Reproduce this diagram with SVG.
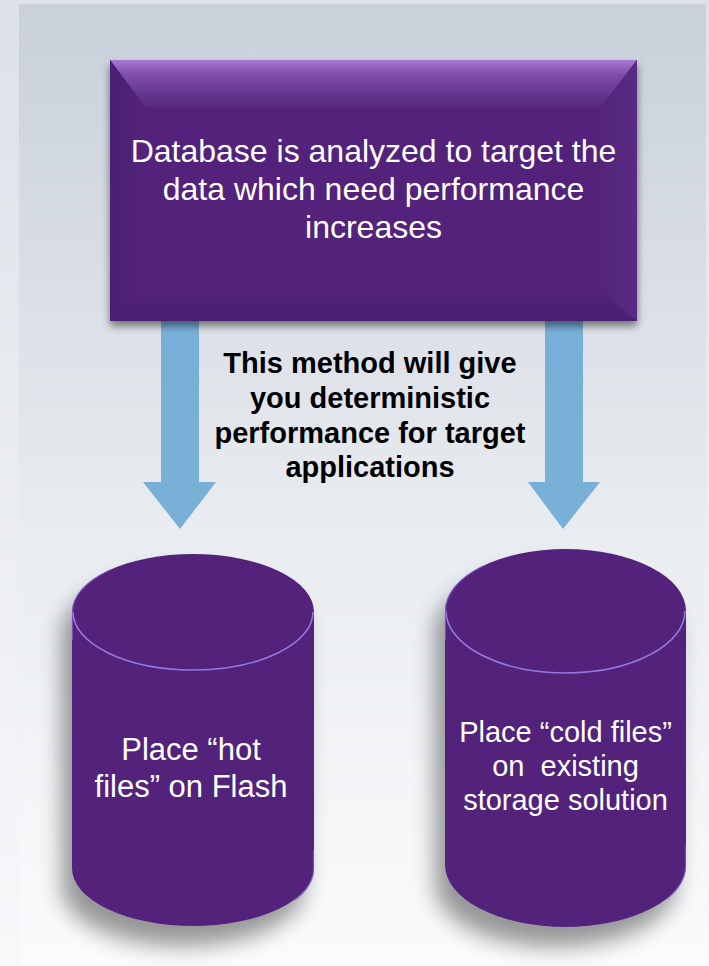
<svg xmlns="http://www.w3.org/2000/svg" width="709" height="966" viewBox="0 0 709 966">
  <defs>
    <linearGradient id="outerBg" x1="0" y1="0" x2="0" y2="1">
      <stop offset="0" stop-color="#dde1e8"/>
      <stop offset="1" stop-color="#f7f8fa"/>
    </linearGradient>
    <linearGradient id="panelBg" x1="0" y1="0" x2="0" y2="1">
      <stop offset="0" stop-color="#c9d0da"/>
      <stop offset="0.55" stop-color="#e9ecf0"/>
      <stop offset="1" stop-color="#fafbfc"/>
    </linearGradient>
    <linearGradient id="bevelTop" x1="0" y1="0" x2="0" y2="1">
      <stop offset="0" stop-color="#a878d2"/>
      <stop offset="0.3" stop-color="#7e4eab"/>
      <stop offset="1" stop-color="#55277d"/>
    </linearGradient>
    <linearGradient id="bevelLeft" x1="0" y1="0" x2="1" y2="0">
      <stop offset="0" stop-color="#4b1f72"/>
      <stop offset="1" stop-color="#53247a"/>
    </linearGradient>
    <linearGradient id="bevelRight" x1="1" y1="0" x2="0" y2="0">
      <stop offset="0" stop-color="#5a2b84"/>
      <stop offset="1" stop-color="#53247a"/>
    </linearGradient>
    <linearGradient id="bevelBottom" x1="0" y1="1" x2="0" y2="0">
      <stop offset="0" stop-color="#4a1e70"/>
      <stop offset="1" stop-color="#53247a"/>
    </linearGradient>
    <filter id="boxShadow" x="-10%" y="-10%" width="120%" height="130%">
      <feGaussianBlur in="SourceAlpha" stdDeviation="4"/>
      <feOffset dx="0" dy="5"/>
      <feComponentTransfer><feFuncA type="linear" slope="0.5"/></feComponentTransfer>
      <feMerge><feMergeNode/><feMergeNode in="SourceGraphic"/></feMerge>
    </filter>
    <filter id="cylShadow" x="-30%" y="-20%" width="160%" height="150%">
      <feGaussianBlur in="SourceAlpha" stdDeviation="11"/>
      <feOffset dx="-10" dy="20"/>
      <feComponentTransfer><feFuncA type="linear" slope="0.4"/></feComponentTransfer>
      <feMerge><feMergeNode/><feMergeNode in="SourceGraphic"/></feMerge>
    </filter>
    <style>
      .arrow { fill: #79b0d8; }
      .purple { fill: #53247a; }
      .rim { fill: none; stroke: #9478e0; stroke-width: 1.6; }
      .edge { fill: none; stroke: #7d5cc8; stroke-width: 1.2; opacity: 0.8; }
      .wtxt { font-family: "Liberation Sans", Arial, sans-serif; fill: #ffffff; text-anchor: middle; }
      .btxt { font-family: "Liberation Sans", Arial, sans-serif; fill: #000000; font-weight: bold; text-anchor: middle; font-size: 29px; }
    </style>
  </defs>

  <rect x="0" y="0" width="709" height="966" fill="url(#outerBg)"/>
  <rect x="19" y="4" width="687" height="962" fill="url(#panelBg)"/>

  <g id="connectors">
    <polygon class="arrow" points="161,310 199,310 199,482 216,482 180,529 143,482 161,482"/>
    <polygon class="arrow" points="545,310 583,310 583,482 600,482 563,529 528,482 545,482"/>
  </g>

  <g id="analyze">
    <g filter="url(#boxShadow)">
      <rect class="purple" x="110" y="60" width="527" height="261"/>
    </g>
    <polygon points="110,60 637,60 600,108 146,108" fill="url(#bevelTop)"/>
    <polygon points="110,60 146,108 146,290 110,321" fill="url(#bevelLeft)"/>
    <polygon points="637,60 600,108 600,290 637,321" fill="url(#bevelRight)"/>
    <polygon points="110,321 146,290 600,290 637,321" fill="url(#bevelBottom)"/>
    <text class="wtxt" font-size="32" x="373.5" y="162">Database is analyzed to target the</text>
    <text class="wtxt" font-size="32" x="373.5" y="200">data which need performance</text>
    <text class="wtxt" font-size="32" x="373.5" y="238">increases</text>
  </g>

  <g id="note">
    <text class="btxt" x="370" y="373">This method will give</text>
    <text class="btxt" x="370" y="408">you deterministic</text>
    <text class="btxt" x="370" y="443">performance for target</text>
    <text class="btxt" x="370" y="477">applications</text>
  </g>

  <g id="hot">
    <g filter="url(#cylShadow)">
      <path class="purple" d="M72,612 A121,58 0 0 1 314,612 L314,868 A121,58 0 0 1 72,868 Z"/>
    </g>
    <path class="rim" d="M73,612 A120,58 0 0 0 313,612"/>
    <path class="edge" d="M72.5,640 L72.5,612 A120.5,58 0 0 1 110,570"/>
    <path class="edge" d="M313.5,850 L313.5,868 A120.5,58 0 0 1 295,900"/>
    <text class="wtxt" font-size="31" x="191" y="760">Place “hot</text>
    <text class="wtxt" font-size="31" x="191" y="797">files” on Flash</text>
  </g>

  <g id="cold">
    <g filter="url(#cylShadow)">
      <path class="purple" d="M445,611 A120.5,62 0 0 1 686,611 L686,865 A120.5,62 0 0 1 445,865 Z"/>
    </g>
    <path class="rim" d="M446,611 A119.5,62 0 0 0 685,611"/>
    <path class="edge" d="M445.5,640 L445.5,611 A120,62 0 0 1 483,566"/>
    <path class="edge" d="M685.5,845 L685.5,865 A120,62 0 0 1 667,899"/>
    <text class="wtxt" font-size="29" x="565.5" y="742">Place “cold files”</text>
    <text class="wtxt" font-size="29" x="565.5" y="776" xml:space="preserve">on  existing</text>
    <text class="wtxt" font-size="29" x="565.5" y="810">storage solution</text>
  </g>
</svg>
